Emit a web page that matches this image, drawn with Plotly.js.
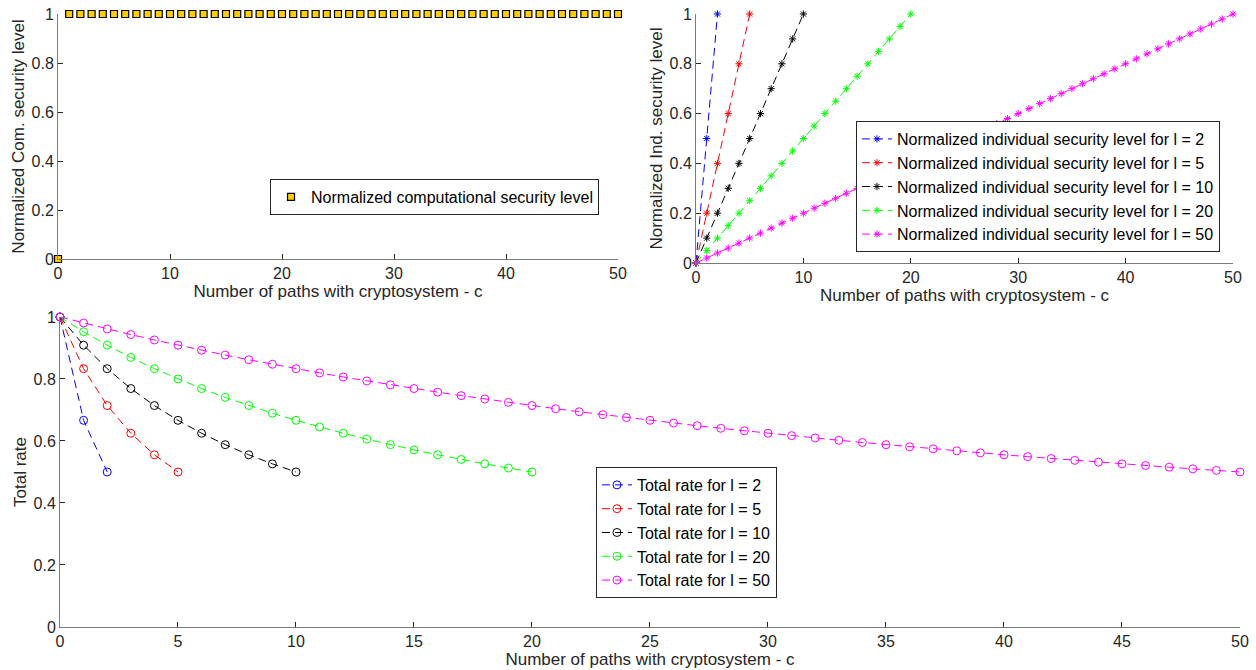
<!DOCTYPE html>
<html>
<head>
<meta charset="utf-8">
<script src="https://cdn.plot.ly/plotly-3.0.1.min.js"></script>
<style>html,body{margin:0;padding:0;background:#fff;}#plot{width:1256px;height:670px;}</style>
</head>
<body>
<div id="plot"></div>
<script>
// ---- Data ----
const c50 = [0,1,2,3,4,5,6,7,8,9,10,11,12,13,14,15,16,17,18,19,20,21,22,23,24,25,26,27,28,29,30,31,32,33,34,35,36,37,38,39,40,41,42,43,44,45,46,47,48,49,50];
const c20 = [0,1,2,3,4,5,6,7,8,9,10,11,12,13,14,15,16,17,18,19,20];
const c10 = [0,1,2,3,4,5,6,7,8,9,10];
const c5 = [0,1,2,3,4,5];
const c2 = [0,1,2];

const comSecurity = [0,1,1,1,1,1,1,1,1,1,1,1,1,1,1,1,1,1,1,1,1,1,1,1,1,1,1,1,1,1,1,1,1,1,1,1,1,1,1,1,1,1,1,1,1,1,1,1,1,1,1];

const ind2 = [0,0.5,1];
const ind5 = [0,0.2,0.4,0.6,0.8,1];
const ind10 = [0,0.1,0.2,0.3,0.4,0.5,0.6,0.7,0.8,0.9,1];
const ind20 = [0,0.05,0.1,0.15,0.2,0.25,0.3,0.35,0.4,0.45,0.5,0.55,0.6,0.65,0.7,0.75,0.8,0.85,0.9,0.95,1];
const ind50 = [0,0.02,0.04,0.06,0.08,0.1,0.12,0.14,0.16,0.18,0.2,0.22,0.24,0.26,0.28,0.3,0.32,0.34,0.36,0.38,0.4,0.42,0.44,0.46,0.48,0.5,0.52,0.54,0.56,0.58,0.6,0.62,0.64,0.66,0.68,0.7,0.72,0.74,0.76,0.78,0.8,0.82,0.84,0.86,0.88,0.9,0.92,0.94,0.96,0.98,1];

const rate2 = [1,0.6667,0.5];
const rate5 = [1,0.8333,0.7143,0.625,0.5556,0.5];
const rate10 = [1,0.9091,0.8333,0.7692,0.7143,0.6667,0.625,0.5882,0.5556,0.5263,0.5];
const rate20 = [1,0.9524,0.9091,0.8696,0.8333,0.8,0.7692,0.7407,0.7143,0.6897,0.6667,0.6452,0.625,0.6061,0.5882,0.5714,0.5556,0.5405,0.5263,0.5128,0.5];
const rate50 = [1,0.9804,0.9615,0.9434,0.9259,0.9091,0.8929,0.8772,0.8621,0.8475,0.8333,0.8197,0.8065,0.7937,0.7813,0.7692,0.7576,0.7463,0.7353,0.7246,0.7143,0.7042,0.6944,0.6849,0.6757,0.6667,0.6579,0.6494,0.641,0.6329,0.625,0.6173,0.6098,0.6024,0.5952,0.5882,0.5814,0.5747,0.5682,0.5618,0.5556,0.5495,0.5435,0.5376,0.5319,0.5263,0.5208,0.5155,0.5102,0.5051,0.5];

const lValues = ['2','5','10','20','50'];
const colors = ['#0000FF','#FF0000','#000000','#00FF00','#FF00FF'];
const xs = [c2,c5,c10,c20,c50];
const inds = [ind2,ind5,ind10,ind20,ind50];
const rates = [rate2,rate5,rate10,rate20,rate50];

// ---- Traces ----
const traces = [];
traces.push({
  x: c50, y: comSecurity, type: 'scatter', mode: 'markers',
  name: 'Normalized computational security level',
  marker: {symbol: 'square', size: 7, color: '#FFCC00', line: {color: '#000', width: 1.2}},
  xaxis: 'x', yaxis: 'y', legend: 'legend', cliponaxis: false
});
for (let i = 0; i < 5; i++) {
  traces.push({
    x: xs[i], y: inds[i], type: 'scatter', mode: 'lines+markers',
    name: 'Normalized individual security level for l = ' + lValues[i],
    line: {color: colors[i], width: 1, dash: '8px,5px'},
    marker: {symbol: 'asterisk-open', size: 6, color: colors[i], line: {color: colors[i], width: 1}},
    xaxis: 'x2', yaxis: 'y2', legend: 'legend2', cliponaxis: false
  });
}
for (let i = 0; i < 5; i++) {
  traces.push({
    x: xs[i], y: rates[i], type: 'scatter', mode: 'lines+markers',
    name: 'Total rate for l = ' + lValues[i],
    line: {color: colors[i], width: 1, dash: '8px,5px'},
    marker: {symbol: 'circle-open', size: 8, color: colors[i], line: {color: colors[i], width: 1}},
    xaxis: 'x3', yaxis: 'y3', legend: 'legend3', cliponaxis: false
  });
}

const fontFam = 'Liberation Sans, Arial, Helvetica, sans-serif';
const axCol = '#7a7a7a';
function ax(domain, anchor, dtick, title, standoff) {
  return {
    domain: domain, anchor: anchor, range: null,
    showline: true, linecolor: axCol, linewidth: 1, mirror: false,
    ticks: 'inside', ticklen: 5, tickcolor: '#262626', tickwidth: 1,
    showgrid: false, zeroline: false, dtick: dtick, tick0: 0,
    tickfont: {family: fontFam, size: 16, color: '#262626'},
    title: {text: title, font: {family: fontFam, size: 17, color: '#262626'}, standoff: standoff},
    fixedrange: true
  };
}

const xa1 = ax([0.04618, 0.49204], 'y', 10, 'Number of paths with cryptosystem - c', 0); xa1.range = [0, 50];
const ya1 = ax([0.6134, 0.9791], 'x', 0.2, 'Normalized Com. security level', 2); ya1.range = [0, 1];
const xa2 = ax([0.55414, 0.98169], 'y2', 10, 'Number of paths with cryptosystem - c', 0); xa2.range = [0, 50];
const ya2 = ax([0.60746, 0.9791], 'x2', 0.2, 'Normalized Ind. security level', 2); ya2.range = [0, 1];
const xa3 = ax([0.04777, 0.98726], 'y3', 5, 'Number of paths with cryptosystem - c', 0); xa3.range = [0, 50];
const ya3 = ax([0.06418, 0.52687], 'x3', 0.2, 'Total rate', 2); ya3.range = [0, 1];

function leg(x, y) {
  return {x: x, y: y, xanchor: 'left', yanchor: 'top', xref: 'paper', yref: 'paper',
    bgcolor: '#FFFFFF', bordercolor: '#262626', borderwidth: 1,
    font: {family: fontFam, size: 16, color: '#000'}};
}

const layout = {
  width: 1256, height: 670,
  margin: {l: 0, r: 0, t: 0, b: 0},
  paper_bgcolor: '#FFFFFF', plot_bgcolor: '#FFFFFF',
  showlegend: true,
  font: {family: fontFam, size: 16, color: '#262626'},
  xaxis: xa1, yaxis: ya1,
  xaxis2: xa2, yaxis2: ya2,
  xaxis3: xa3, yaxis3: ya3,
  legend: leg(0.215, 0.733),
  legend2: leg(0.6815, 0.8194),
  legend3: leg(0.4745, 0.303)
};

Plotly.newPlot('plot', traces, layout, {displayModeBar: false, staticPlot: true});
</script>
</body>
</html>
